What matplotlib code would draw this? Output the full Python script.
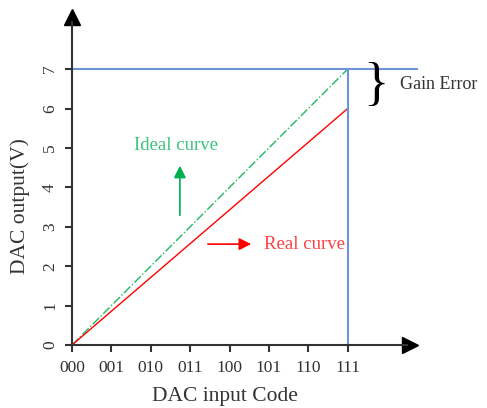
import numpy as np
import matplotlib.pyplot as plt
from matplotlib.patches import FancyArrowPatch

plt.rcParams['font.family'] = ['Liberation Serif', 'DejaVu Serif']

# 数据
codes = ['000', '001', '010', '011', '100', '101', '110', '111']
x = np.arange(len(codes))
ideal = [0, 1, 2, 3, 4, 5, 6, 7]
real = [0, 6/7, 12/7, 18/7, 24/7, 30/7, 36/7, 6]
full_scale = 7
volt_ticks = [0, 1, 2, 3, 4, 5, 6, 7]

blue = '#7094d8'
green = '#1fb860'
red = '#ff0000'

fig = plt.figure(figsize=(4.87, 4.08), dpi=100)
W, H = 487, 408
ax = fig.add_axes([72/W, (H-345)/H, (417-72)/W, (345-10)/H])
ax.set_xlim(0, 8.76)
ax.set_ylim(0, 8.5)

for s in ['top', 'right']:
    ax.spines[s].set_visible(False)
for s in ['left', 'bottom']:
    ax.spines[s].set_color('#333333')
    ax.spines[s].set_linewidth(1.5)
ax.spines['bottom'].set_bounds(0, 8.5)
ax.spines['left'].set_bounds(0, 8.2)

# 坐标轴箭头
ax.plot(0.98, 0, '>', color='k', markersize=11, transform=ax.transAxes, clip_on=False)
ax.plot(0, 0.978, '^', color='k', markersize=11, transform=ax.transAxes, clip_on=False)

ax.set_xticks(x)
ax.set_xticklabels(codes, fontsize=12.5)
ax.set_yticks(volt_ticks)
ax.set_yticklabels([str(v) for v in volt_ticks], fontsize=12.5, rotation=90, va='center')
ax.tick_params(direction='out', length=5, width=1.5, color='#333333', labelcolor='#333333')
ax.tick_params(axis='x', pad=6)
ax.tick_params(axis='y', pad=5)

# 曲线
ax.plot(x, ideal, color=green, linestyle='-.', linewidth=1)
ax.plot(x, real, color=red, linewidth=1)
ax.plot([0, 8.76], [full_scale, full_scale], color=blue, linewidth=1.5, clip_on=False)
ax.plot([x[-1], x[-1]], [0, full_scale], color=blue, linewidth=1.5)

# 标注箭头
ax.add_patch(FancyArrowPatch((2.74, 3.22), (2.74, 4.62), arrowstyle='-|>',
                             mutation_scale=18, color='#00b050', linewidth=1.2))
ax.text(2.64, 5.05, 'Ideal curve', color='#3cc47c', fontsize=13.5, ha='center', va='center')
ax.add_patch(FancyArrowPatch((3.38, 2.56), (4.62, 2.56), arrowstyle='-|>',
                             mutation_scale=18, color=red, linewidth=1.2))
ax.text(4.87, 2.56, 'Real curve', color='#ff4040', fontsize=13.5, ha='left', va='center')

# 增益误差
ax.text(7.72, 6.58, '}', fontsize=38, ha='center', va='center', clip_on=False)
ax.text(8.33, 6.6, 'Gain Error', fontsize=13, color='#333333', ha='left', va='center', clip_on=False)

ax.set_xlabel('DAC input Code', fontsize=15.5, color='#333333', va='center', ha='center')
ax.set_ylabel('DAC output(V)', fontsize=15.5, color='#333333', va='center', ha='center')
ax.xaxis.set_label_coords(0.443, -0.155)
ax.yaxis.set_label_coords(-0.151, 0.415)

fig.savefig('out.png', dpi=100)
